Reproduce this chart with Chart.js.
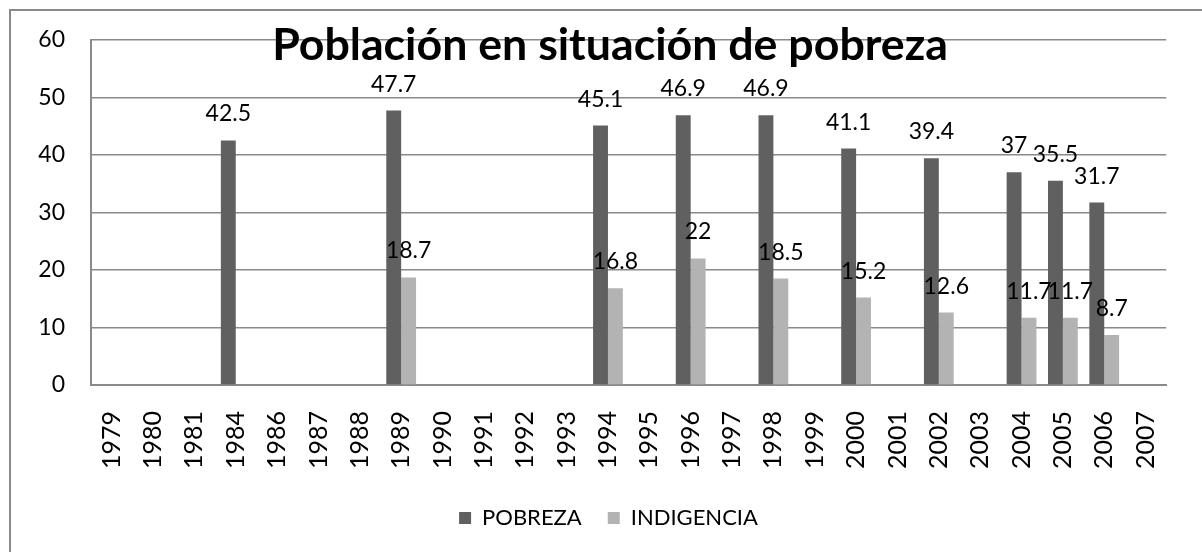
<!DOCTYPE html>
<html>
<head>
<meta charset="utf-8">
<script src="https://cdn.jsdelivr.net/npm/chart.js@4/dist/chart.umd.min.js"></script>
<style>
  body { margin: 0; background: #fff; }
  #caja { width: 1202px; height: 552px; position: relative; }
</style>
</head>
<body>
<div id="caja"><canvas id="canvas"></canvas></div>
<script>
var anios = ["1979", "1980", "1981", "1984", "1986", "1987", "1988", "1989", "1990", "1991", "1992", "1993",
    "1994", "1995", "1996", "1997", "1998", "1999", "2000", "2001", "2002", "2003", "2004", "2005", "2006", "2007"];
var pobreza = [null, null, null, 42.5, null, null, null, 47.7, null, null, null, null,
    45.1, null, 46.9, null, 46.9, null, 41.1, null, 39.4, null, 37, 35.5, 31.7, null];
var indigencia = [null, null, null, null, null, null, null, 18.7, null, null, null, null,
    16.8, null, 22, null, 18.5, null, 15.2, null, 12.6, null, 11.7, 11.7, 8.7, null];
var titulo = "Población en situación de pobreza";

var fuente = "Lato, 'Open Sans', sans-serif";

function createDataset(color, name, dados) {
    return {
        label: name,
        backgroundColor: color,
        borderWidth: 0,
        data: dados,
        barPercentage: 1,
        categoryPercentage: 0.72
    }
}

// marco gris, etiquetas de valores y titulo
var extras = {
    id: 'extras',
    beforeDraw: function (chart) {
        var ctx = chart.ctx;
        ctx.save();
        ctx.fillStyle = '#fff';
        ctx.fillRect(0, 0, chart.width, chart.height);
        ctx.strokeStyle = '#8a8a8a';
        ctx.lineWidth = 2;
        ctx.strokeRect(10, 10, chart.width + 20, chart.height + 20);
        ctx.restore();
    },
    afterDatasetsDraw: function (chart) {
        var ctx = chart.ctx;
        ctx.save();
        ctx.font = "23px " + fuente;
        ctx.fillStyle = '#000';
        ctx.textAlign = 'center';
        ctx.textBaseline = 'alphabetic';
        chart.data.datasets.forEach(function (ds, i) {
            var meta = chart.getDatasetMeta(i);
            meta.data.forEach(function (barra, j) {
                var v = ds.data[j];
                if (v === null) return;
                ctx.fillText(String(v), barra.x, barra.y - 19);
            });
        });
        ctx.restore();
    },
    afterDraw: function (chart) {
        var ctx = chart.ctx;
        ctx.save();
        ctx.font = "bold 40px " + fuente;
        var w = ctx.measureText(titulo).width;
        var size = 40 * 676 / w;
        ctx.font = "bold " + size.toFixed(1) + "px " + fuente;
        ctx.fillStyle = '#000';
        ctx.textAlign = 'center';
        ctx.textBaseline = 'alphabetic';
        ctx.fillText(titulo, 610, 60);
        ctx.restore();
    }
};

var config = {
    type: 'bar',
    data: {
        labels: anios,
        datasets: [
            createDataset('#606060', 'POBREZA', pobreza),
            createDataset('#b3b3b3', 'INDIGENCIA', indigencia)
        ]
    },
    options: {
        responsive: true,
        maintainAspectRatio: false,
        animation: false,
        layout: { padding: { left: 36, right: 21, top: 39, bottom: 13 } },
        plugins: {
            title: { display: false },
            tooltip: { enabled: false },
            legend: {
                position: 'bottom',
                labels: {
                    color: '#000',
                    font: { family: fuente, size: 22 },
                    boxWidth: 12,
                    boxHeight: 12,
                    padding: 26
                }
            }
        },
        scales: {
            x: {
                grid: { display: false, drawTicks: false },
                border: { color: '#8a8a8a', width: 2 },
                ticks: {
                    color: '#000',
                    font: { family: fuente, size: 25 },
                    minRotation: 90,
                    maxRotation: 90,
                    autoSkip: false,
                    padding: 26
                },
                afterFit: function (scale) { scale.height = 96; }
            },
            y: {
                min: 0,
                max: 60,
                grid: { color: '#8a8a8a', lineWidth: 1.5, drawTicks: false },
                border: { color: '#8a8a8a', width: 2 },
                ticks: {
                    stepSize: 10,
                    color: '#000',
                    font: { family: fuente, size: 23 },
                    padding: 26
                },
                afterFit: function (scale) { scale.width = 55; }
            }
        }
    },
    plugins: [extras]
};

var ctx = document.getElementById('canvas').getContext('2d');
window.miGrafico = new Chart(ctx, config);
</script>
</body>
</html>
